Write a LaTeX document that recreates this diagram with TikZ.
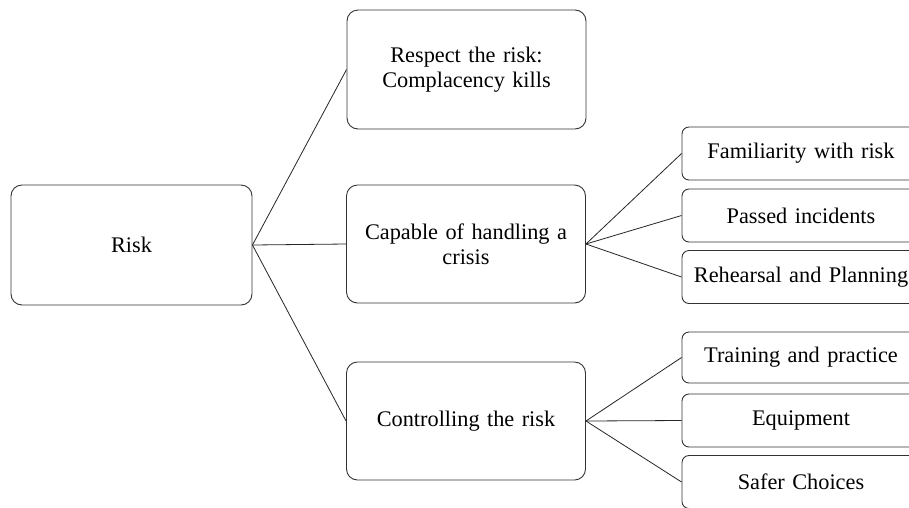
\documentclass[tikz,border=0pt]{standalone}
\usepackage{fontspec}
\setmainfont{Liberation Serif}
\begin{document}
\begin{tikzpicture}[x=1pt,y=-1pt,
  box/.style={draw=black!80, line width=0.9pt, rounded corners=11pt, align=center,
    inner sep=0pt, text width=#1, font=\fontsize{22.3}{25}\selectfont},
  big/.style={box=230pt, minimum width=239pt, minimum height=119pt},
  small/.style={box=236pt, minimum width=238pt, minimum height=53pt, rounded corners=7pt},
  link/.style={draw=black!85, line width=0.8pt}]
\useasboundingbox (0,0) rectangle (909,507);
\clip (0,0) rectangle (909,507);
\fill[white] (0,0) rectangle (909,507);
\node[big, minimum width=241pt, minimum height=120pt] (risk) at (131.5,245) {Risk};
\node[big] (respect) at (466.5,69.5) {Respect the risk:\\Complacency kills};
\node[big, minimum height=118pt] (capable) at (466,244) {Capable of handling a\\crisis};
\node[big, minimum height=118pt] (control) at (466,421) {Controlling the risk};
\node[small] (fam) at (801,153.5) {Familiarity with risk};
\node[small] (pass) at (801,215.5) {Passed incidents};
\node[small] (reh) at (801,277) {Rehearsal and Planning};
\node[small, minimum height=51pt] (train) at (801,357.5) {Training and practice};
\node[small] (equip) at (801,420.5) {Equipment};
\node[small] (safer) at (801,482) {Safer Choices};
\draw[link] (risk.east) -- (respect.west);
\draw[link] (risk.east) -- (capable.west);
\draw[link] (risk.east) -- (control.west);
\draw[link] (capable.east) -- (fam.west);
\draw[link] (capable.east) -- (pass.west);
\draw[link] (capable.east) -- (reh.west);
\draw[link] (control.east) -- (train.west);
\draw[link] (control.east) -- (equip.west);
\draw[link] (control.east) -- (safer.west);
\end{tikzpicture}
\end{document}
